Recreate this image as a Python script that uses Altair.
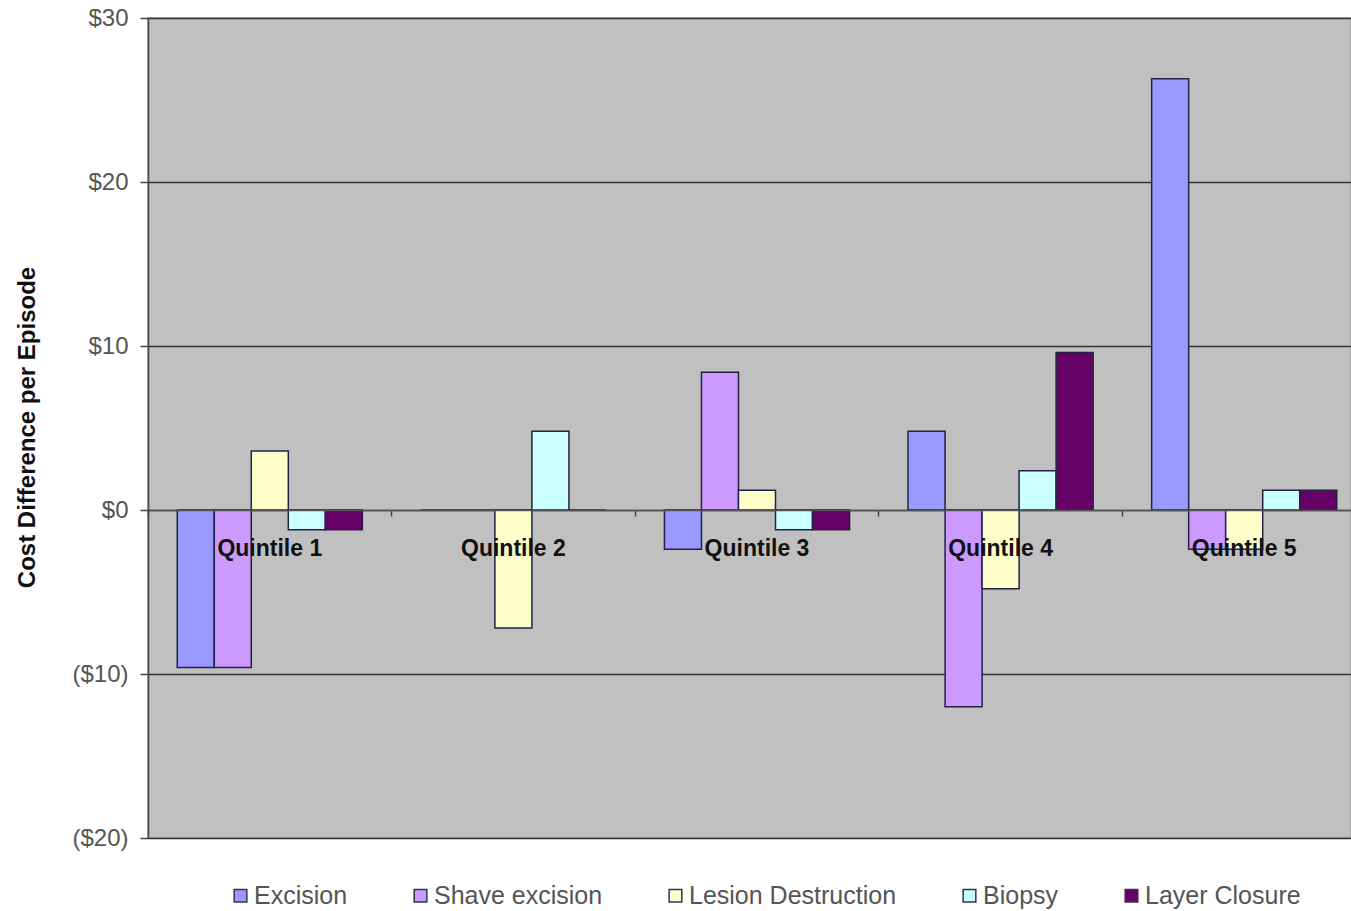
import altair as alt
import pandas as pd

quintiles = ["Quintile 1", "Quintile 2", "Quintile 3", "Quintile 4", "Quintile 5"]
series = ["Excision", "Shave excision", "Lesion Destruction", "Biopsy", "Layer Closure"]
colors = ["#9999ff", "#cc99ff", "#ffffcc", "#ccffff", "#660066"]

excision = [-9.6, 0.0, -2.4, 4.8, 26.3]
shave_excision = [-9.6, 0.0, 8.4, -12.0, -2.4]
lesion_destruction = [3.6, -7.2, 1.2, -4.8, -2.4]
biopsy = [-1.2, 4.8, -1.2, 2.4, 1.2]
layer_closure = [-1.2, 0.0, -1.2, 9.6, 1.2]

values = [excision, shave_excision, lesion_destruction, biopsy, layer_closure]
rows = []
for s, vals in zip(series, values):
    for q, v in zip(quintiles, vals):
        rows.append({"Quintile": q, "Procedure": s, "Value": v})
df = pd.DataFrame(rows)

PSPACE = "\u2008"

bars = alt.Chart(df).mark_bar(stroke="#222244", strokeWidth=1.5).encode(
    x=alt.X(
        "Quintile:N",
        sort=quintiles,
        scale=alt.Scale(paddingInner=0, paddingOuter=0, range=[0, 1218]),
        axis=alt.Axis(
            title=None,
            orient="bottom",
            offset=-328,
            labelAngle=0,
            labelFont="Liberation Sans",
            labelFontWeight="bold",
            labelFontSize=23,
            labelColor="#111111",
            labelPadding=21,
            labelBaseline="top",
            bandPosition=0,
            tickSize=6,
            tickColor="#444444",
            tickWidth=1.5,
            domainColor="#555555",
            domainWidth=1.5,
            zindex=1,
            grid=False,
        ),
    ),
    xOffset=alt.XOffset(
        "Procedure:N",
        sort=series,
        scale=alt.Scale(paddingInner=0, paddingOuter=0.79),
    ),
    y=alt.Y(
        "Value:Q",
        scale=alt.Scale(domain=[-20, 30], nice=False, zero=True),
        axis=alt.Axis(
            title="Cost Difference per Episode",
            values=[-20, -10, 0, 10, 20, 30],
            labelExpr="datum.value < 0 ? '($' + abs(datum.value) + ')' : '$' + datum.value + '" + PSPACE + "'",
            labelFont="Liberation Sans",
            labelFontSize=24,
            labelColor="#555555",
            labelPadding=12,
            tickSize=8,
            tickColor="#444444",
            tickWidth=1.5,
            domainColor="#444444",
            domainWidth=1.5,
            grid=True,
            gridColor="#333333",
            gridWidth=1.5,
            titleFont="Liberation Sans",
            titleFontWeight="bold",
            titleFontSize=24,
            titleColor="#111111",
            titleAngle=-90,
            titleX=-121,
            titleY=409,
            titleAlign="center",
            titleBaseline="middle",
        ),
    ),
    color=alt.Color(
        "Procedure:N",
        sort=series,
        scale=alt.Scale(domain=series, range=colors),
        legend=alt.Legend(
            title=None,
            orient="none",
            direction="horizontal",
            legendX=80,
            legendY=865,
            symbolType="square",
            symbolSize=160,
            symbolStrokeColor="#333355",
            symbolStrokeWidth=1.5,
            labelFont="Liberation Sans",
            labelFontSize=25,
            labelColor="#555555",
            labelOffset=1,
            labelLimit=0,
            columnPadding=60,
        ),
    ),
)

chart = bars.properties(
    width=1203,
    height=820,
    autosize=alt.AutoSizeParams(type="none"),
    padding={"left": 148, "top": 18, "right": 0, "bottom": 73},
    background="white",
).configure_view(
    fill="#c0c0c0",
    stroke="#999999",
    strokeWidth=1.5,
)

chart.save("out.html", embed_options={"renderer": "svg", "actions": False})
